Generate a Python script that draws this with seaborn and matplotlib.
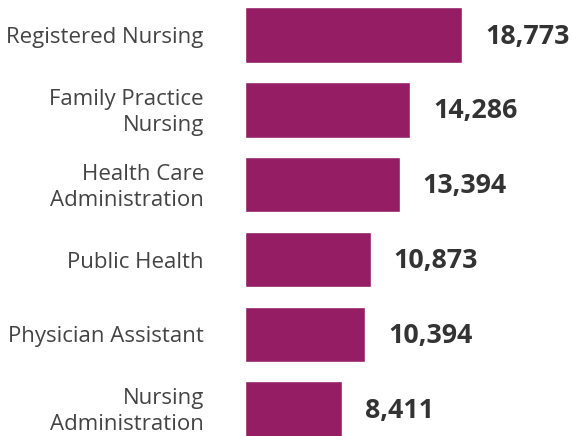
import pandas as pd
import seaborn as sns
import matplotlib.pyplot as plt
from matplotlib.transforms import ScaledTranslation

# данные с картинки
programs = ['Registered Nursing', 'Family Practice\nNursing', 'Health Care\nAdministration',
            'Public Health', 'Physician Assistant', 'Nursing\nAdministration']
counts = [18773, 14286, 13394, 10873, 10394, 8411]

df = pd.DataFrame({'program': programs, 'count': counts})

sns.set_style('white')
plt.rcParams['font.family'] = ['Open Sans', 'DejaVu Sans']

fig = plt.figure(figsize=(5.72, 4.36), dpi=100)
ax = fig.add_axes([0.428, 0, 0.572, 1])

sns.barplot(data=df, x='count', y='program', color='#941D63', saturation=1,
            width=0.74, ax=ax)

for i, v in enumerate(counts):
    ax.text(v + 2000, i + 0.02, f'{v:,}', va='center', ha='left',
            fontsize=19.3, fontweight='bold', color='#333333')

ax.set_xlim(0, 28290)
ax.set_ylim(5.36, -0.47)
ax.set_xlabel('')
ax.set_ylabel('')
ax.set_xticks([])
ax.tick_params(axis='y', length=0, pad=29.5, labelsize=16, labelcolor='#444444')
# немного опускаем подписи
shift = ScaledTranslation(0, -2.5 / 100, fig.dpi_scale_trans)
for lbl in ax.get_yticklabels():
    lbl.set_linespacing(1.3)
    lbl.set_verticalalignment('center')
    lbl.set_transform(lbl.get_transform() + shift)
sns.despine(ax=ax, left=True, bottom=True)

plt.savefig('out.png', dpi=100)
